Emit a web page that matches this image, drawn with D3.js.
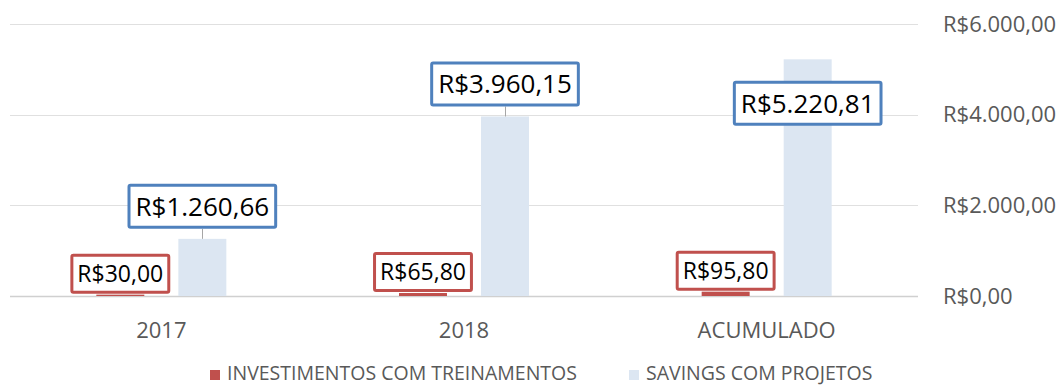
<!DOCTYPE html>
<html>
<head>
<meta charset="utf-8">
<script src="https://cdn.jsdelivr.net/npm/d3@7/dist/d3.min.js"></script>
<style>
  html, body { margin: 0; padding: 0; background: #ffffff; }
  svg { display: block; font-family: "Open Sans", "Noto Sans", sans-serif; }
</style>
</head>
<body>
<svg id="chart" width="1062" height="385"></svg>
<script>
// Categories and series values
const categories = ["2017", "2018", "ACUMULADO"];
const seriesNames = ["INVESTIMENTOS COM TREINAMENTOS", "SAVINGS COM PROJETOS"];
const investimentos = [30.00, 65.80, 95.80];
const savings = [1260.66, 3960.15, 5220.81];
const yTicks = [0, 2000, 4000, 6000];

const colors = {
  "INVESTIMENTOS COM TREINAMENTOS": { fill: "#c0504d", stroke: "#c0504d", font: 23 },
  "SAVINGS COM PROJETOS": { fill: "#dce6f2", stroke: "#4f81bd", font: 26 }
};

const brl = d3.formatLocale({
  decimal: ",", thousands: ".", grouping: [3], currency: ["R$", ""]
}).format("$,.2f");

const svg = d3.select("#chart");
const plotLeft = 10, plotRight = 918, plotTop = 24, plotBottom = 296;

const x = d3.scaleBand().domain(categories).range([plotLeft, plotRight]);
const bw = x.bandwidth();
const x1 = d3.scaleBand().domain(seriesNames)
  .range([bw / 2 - 65, bw / 2 + 65]).paddingInner(0.415).paddingOuter(0);
const y = d3.scaleLinear().domain([0, 6000]).range([plotBottom, plotTop]);

// Gridlines
svg.append("g").selectAll("line")
  .data(yTicks)
  .join("line")
  .attr("x1", plotLeft).attr("x2", plotRight)
  .attr("y1", d => Math.round(y(d)) + 0.5).attr("y2", d => Math.round(y(d)) + 0.5)
  .attr("stroke", d => d === 0 ? "#d0d0d0" : "#e0e0e0")
  .attr("stroke-width", d => d === 0 ? 1.6 : 1);

// Value axis on the right
const yAxis = svg.append("g")
  .attr("transform", `translate(${plotRight},0)`)
  .call(d3.axisRight(y).tickValues(yTicks).tickFormat(brl).tickSize(0).tickPadding(25));
yAxis.select(".domain").remove();
yAxis.selectAll("text")
  .attr("fill", "#595959").style("font-size", "22px")
  .attr("font-family", "Open Sans");

// Category axis
const xAxis = svg.append("g")
  .attr("transform", `translate(0,${plotBottom})`)
  .call(d3.axisBottom(x).tickSize(0).tickPadding(26));
xAxis.select(".domain").remove();
xAxis.selectAll("text")
  .attr("fill", "#595959").style("font-size", "22px")
  .attr("font-family", "Open Sans");

// Rows per series
const rows = [
  { name: seriesNames[0], values: investimentos },
  { name: seriesNames[1], values: savings }
];

const points = [];
rows.forEach(r => r.values.forEach((v, i) => points.push({ series: r.name, cat: categories[i], value: v })));

// Bars
svg.append("g").selectAll("rect")
  .data(points)
  .join("rect")
  .attr("x", d => x(d.cat) + x1(d.series))
  .attr("width", x1.bandwidth())
  .attr("y", d => y(d.value))
  .attr("height", d => y(0) - y(d.value))
  .attr("fill", d => colors[d.series].fill);

// Data labels in bordered boxes
const labels = svg.append("g");
points.forEach(d => {
  const c = colors[d.series];
  const cx = x(d.cat) + x1(d.series) + x1.bandwidth() / 2;
  const yTop = y(d.value);
  const isSavings = d.series === seriesNames[1];
  const boxH = isSavings ? 45 : 40;
  const g = labels.append("g");
  const t = g.append("text")
    .attr("text-anchor", "middle")
    .attr("font-family", "Open Sans")
    .style("font-size", c.font + "px")
    .attr("fill", "#000")
    .text(brl(d.value));
  const tw = t.node().getComputedTextLength();
  const boxW = tw + (isSavings ? 16 : 14);

  let boxBottom, leader = false;
  if (isSavings) {
    boxBottom = yTop - 10;
    leader = true;
    if (boxBottom - boxH < plotTop - 4) {
      // no room above the tallest bar: place the label over the bar
      boxBottom = yTop + 44 + boxH / 2;
      leader = false;
    }
  } else {
    boxBottom = yTop - 1;
  }
  const boxTop = boxBottom - boxH;
  const sw = 3;
  g.insert("rect", "text")
    .attr("x", cx - boxW / 2 + sw / 2)
    .attr("y", boxTop + sw / 2)
    .attr("width", boxW - sw)
    .attr("height", boxH - sw)
    .attr("rx", 1.5)
    .attr("fill", "#fff")
    .attr("stroke", c.stroke)
    .attr("stroke-width", sw);
  t.attr("x", cx).attr("y", boxTop + boxH / 2).attr("dy", "0.36em");
  if (leader) {
    labels.insert("line", ":first-child")
      .attr("x1", Math.round(cx) + 0.5).attr("x2", Math.round(cx) + 0.5)
      .attr("y1", boxBottom).attr("y2", yTop)
      .attr("stroke", "#a6a6a6").attr("stroke-width", 1);
  }
});

// Legend
const legendItems = [
  { name: seriesNames[0], x: 210 },
  { name: seriesNames[1], x: 629 }
];
const legend = svg.append("g");
legendItems.forEach(it => {
  legend.append("rect")
    .attr("x", it.x).attr("y", 370).attr("width", 10).attr("height", 10)
    .attr("fill", colors[it.name].fill);
  legend.append("text")
    .attr("x", it.x + 17).attr("y", 379.5)
    .attr("font-family", "Open Sans")
    .style("font-size", "19.5px")
    .attr("fill", "#595959")
    .text(it.name);
});
</script>
</body>
</html>
